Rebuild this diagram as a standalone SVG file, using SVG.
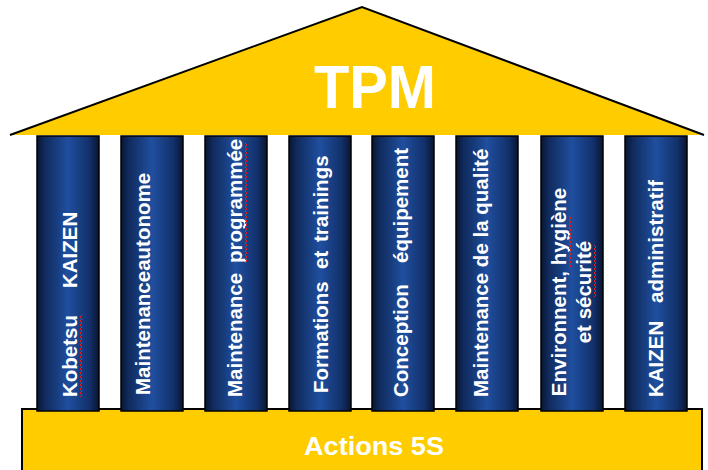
<svg xmlns="http://www.w3.org/2000/svg" width="708" height="470" viewBox="0 0 708 470">
<defs>
<linearGradient id="colGrad" x1="0" y1="0" x2="1" y2="0">
<stop offset="0" stop-color="#081530"/>
<stop offset="0.12" stop-color="#102a5c"/>
<stop offset="0.5" stop-color="#1f4f9f"/>
<stop offset="0.85" stop-color="#12306a"/>
<stop offset="1" stop-color="#081530"/>
</linearGradient>
</defs>
<style>
.col{fill:url(#colGrad);stroke:#000;stroke-width:1.5}
.lbl{font-family:"Liberation Sans",Arial,sans-serif;font-weight:bold;font-size:20.5px;fill:#fff}
.big{font-family:"Liberation Sans",Arial,sans-serif;font-weight:bold;fill:#fff}
.sq{fill:none;stroke:#e02020;stroke-width:1}
</style>
<rect width="708" height="470" fill="#fff"/>
<g id="roof">
<polygon points="10,135 362,7 704,135" fill="#ffcc00"/>
<polyline points="10,135 362,7 704,135" fill="none" stroke="#000" stroke-width="2"/>
<text class="big" x="375" y="108" font-size="62" text-anchor="middle" textLength="122" lengthAdjust="spacingAndGlyphs">TPM</text>
</g>
<g id="base">
<rect x="22" y="409" width="680" height="70" fill="#ffcc00" stroke="#000" stroke-width="2"/>
<text class="big" x="374" y="455" font-size="25.5" text-anchor="middle" textLength="140" lengthAdjust="spacingAndGlyphs">Actions 5S</text>
</g>
<g id="pillar1">
<rect class="col" x="37" y="136" width="62" height="275"/>
<g transform="translate(77,397) rotate(-90)">
<text class="lbl" x="0" y="0">Kobetsu</text>
<text class="lbl" x="109" y="0">KAIZEN</text>
<polyline class="sq" points="0,3 2,5 4,3 6,5 8,3 10,5 12,3 14,5 16,3 18,5 20,3 22,5 24,3 26,5 28,3 30,5 32,3 34,5 36,3 38,5 40,3 42,5 44,3 46,5 48,3 50,5 52,3 54,5 56,3 58,5 60,3 62,5 64,3 66,5 68,3 70,5 72,3 74,5 76,3 78,5 80,3 82,5"/>
</g>
</g>
<g id="pillar2">
<rect class="col" x="121" y="136" width="62" height="275"/>
<text class="lbl" transform="translate(150,395) rotate(-90)">Maintenanceautonome</text>
</g>
<g id="pillar3">
<rect class="col" x="205" y="136" width="62" height="275"/>
<g transform="translate(242,397) rotate(-90)">
<text class="lbl" x="0" y="0">Maintenance</text>
<text class="lbl" x="134" y="0">programmée</text>
<polyline class="sq" points="134,3 136,5 138,3 140,5 142,3 144,5 146,3 148,5 150,3 152,5 154,3 156,5 158,3 160,5 162,3 164,5 166,3 168,5 170,3 172,5 174,3 176,5 178,3 180,5 182,3 184,5 186,3 188,5 190,3 192,5 194,3 196,5 198,3 200,5 202,3 204,5 206,3 208,5 210,3 212,5 214,3 216,5 218,3 220,5 222,3 224,5 226,3 228,5 230,3 232,5 234,3 236,5 238,3 240,5 242,3 244,5 246,3 248,5 250,3 252,5 254,3"/>
</g>
</g>
<g id="pillar4">
<rect class="col" x="289" y="136" width="62" height="275"/>
<g transform="translate(328,393) rotate(-90)">
<text class="lbl" x="0" y="0">Formations</text>
<text class="lbl" x="124" y="0">et</text>
<text class="lbl" x="151" y="0">trainings</text>
</g>
</g>
<g id="pillar5">
<rect class="col" x="372" y="136" width="62" height="275"/>
<g transform="translate(408,397) rotate(-90)">
<text class="lbl" x="0" y="0">Conception</text>
<text class="lbl" x="134" y="0">équipement</text>
</g>
</g>
<g id="pillar6">
<rect class="col" x="456" y="136" width="62" height="275"/>
<text class="lbl" transform="translate(488,397) rotate(-90)">Maintenance de la qualité</text>
</g>
<g id="pillar7">
<rect class="col" x="541" y="136" width="62" height="275"/>
<g transform="translate(566,292) rotate(-90)">
<text class="lbl" x="0" y="0" text-anchor="middle">Environnent, hygiène</text>
<text class="lbl" x="0" y="25" text-anchor="middle">et sécurité</text>
<polyline class="sq" points="24,3 26,5 28,3 30,5 32,3 34,5 36,3 38,5 40,3 42,5 44,3 46,5 48,3 50,5 52,3 54,5 56,3 58,5 60,3 62,5 64,3 66,5 68,3 70,5 72,3 74,5 76,3"/>
<polyline class="sq" points="-5,28 -3,30 -1,28 1,30 3,28 5,30 7,28 9,30 11,28 13,30 15,28 17,30 19,28 21,30 23,28 25,30 27,28 29,30 31,28 33,30 35,28 37,30 39,28 41,30 43,28 45,30 47,28"/>
</g>
</g>
<g id="pillar8">
<rect class="col" x="625" y="136" width="62" height="275"/>
<g transform="translate(663,397) rotate(-90)">
<text class="lbl" x="0" y="0">KAIZEN</text>
<text class="lbl" x="94" y="0">administratif</text>
</g>
</g>
<g id="connectors"/>
</svg>
